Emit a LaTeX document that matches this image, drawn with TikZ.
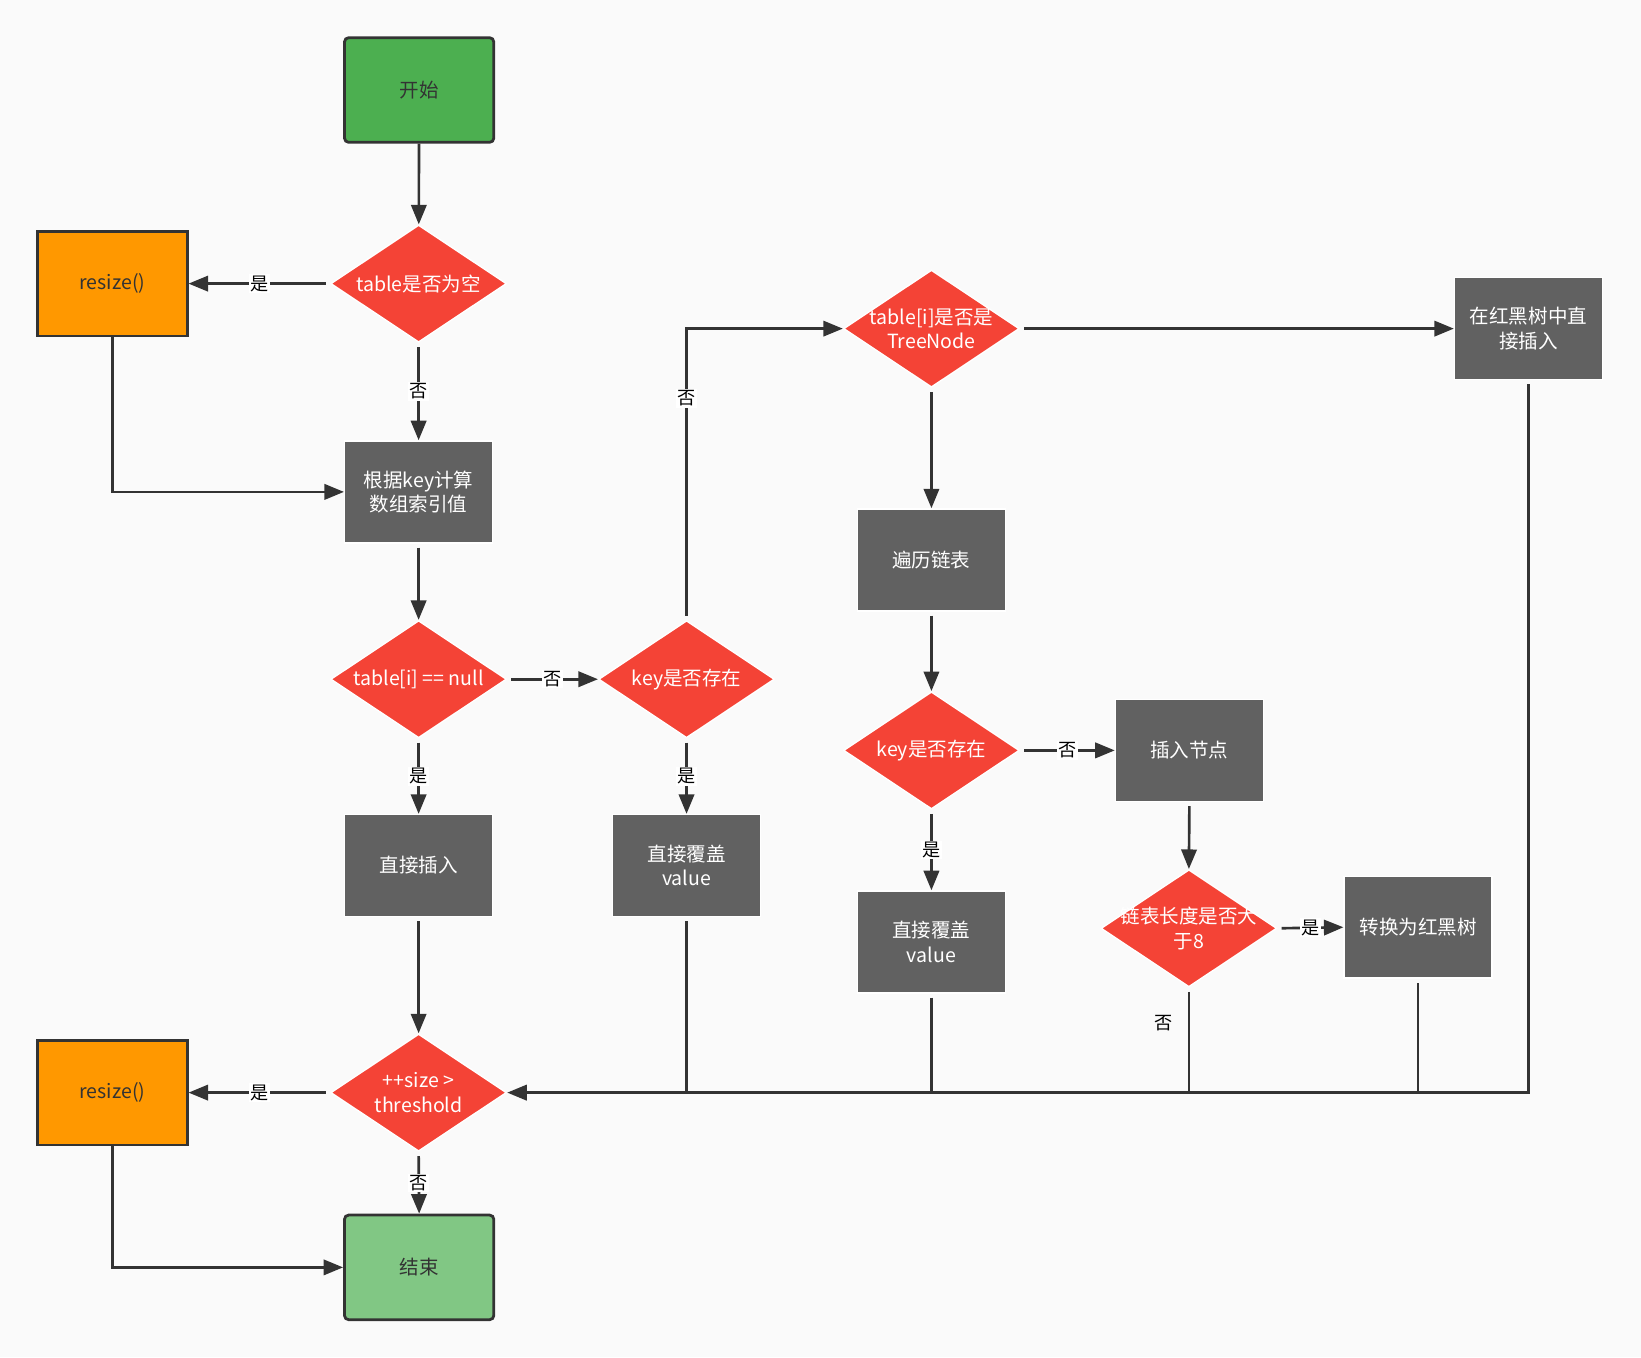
\documentclass[tikz,border=0pt]{standalone}
\usepackage{fontspec}
\setmainfont{Noto Sans CJK SC}
\usetikzlibrary{shapes.geometric,arrows.meta}
\definecolor{bgc}{RGB}{250,250,250}
\definecolor{edgec}{RGB}{51,51,51}
\definecolor{startc}{RGB}{76,175,80}
\definecolor{endc}{RGB}{129,199,132}
\definecolor{redc}{RGB}{244,67,54}
\definecolor{orangec}{RGB}{255,152,0}
\definecolor{grayc}{RGB}{97,97,97}
\begin{document}
\begin{tikzpicture}[x=0.75pt,y=-0.75pt,
  txt/.style={font=\fontsize{14}{17.5}\selectfont, align=center},
  term/.style={txt, draw=edgec, line width=2pt, rounded corners=3pt, minimum width=107pt, minimum height=75pt, inner sep=0pt, text=edgec},
  rsz/.style={txt, draw=edgec, line width=2pt, fill=orangec, minimum width=107pt, minimum height=75pt, inner sep=0pt, text=edgec},
  proc/.style={txt, draw=white, line width=1pt, fill=grayc, minimum width=106pt, minimum height=73pt, inner sep=0pt, text=white},
  dia/.style={shape=diamond, fill=redc, draw=white, line width=1pt, minimum width=126pt, minimum height=84pt, inner sep=0pt},
  dtxt/.style={txt, text=white, inner sep=0pt},
  conn/.style={draw=edgec, line width=1.9pt},
  arr/.style={conn, -{Triangle[length=14pt,width=11pt]}},
  gap/.style={shorten <=3pt},
  lbl/.style={fill=white, inner sep=1pt, font=\fontsize{13}{15}\selectfont, text=black},
  lbln/.style={inner sep=1pt, font=\fontsize{13}{15}\selectfont, text=black}
]
\fill[bgc] (0,0) rectangle (1568,1297);
\path[use as bounding box] (0,0) rectangle (1568,1297);

% nodes
\node[term, fill=startc] (start) at (400.5,86) {开始};
\node[dia] (d1) at (400,271) {};
\node[dtxt] (d1t) at (d1.center) {table是否为空};
\node[rsz] (r1) at (107.5,271) {resize()};
\node[proc] (calc) at (400,470) {根据key计算\\数组索引值};
\node[dia] (d2) at (400,649) {};
\node[dtxt] (d2t) at (d2.center) {table[i] == null};
\node[dia] (d3) at (656,649) {};
\node[dtxt] (d3t) at (d3.center) {key是否存在};
\node[proc] (ins) at (400,827) {直接插入};
\node[proc] (cov1) at (656,827) {直接覆盖\\value};
\node[dia] (d4) at (400,1044) {};
\node[dtxt] (d4t) at (d4.center) {++size >\\threshold};
\node[rsz] (r2) at (107.5,1044) {resize()};
\node[term, fill=endc] (stop) at (400.5,1211) {结束};
\node[dia] (tn) at (890,314) {};
\node[dtxt] (tnt) at (tn.center) {table[i]是否是\\TreeNode};
\node[proc] (rb) at (1460.5,314) {在红黑树中直\\接插入};
\node[proc] (trav) at (890,535) {遍历链表};
\node[dia] (d5) at (890,717) {};
\node[dtxt] (d5t) at (d5.center) {key是否存在};
\node[proc] (insn) at (1136.5,717) {插入节点};
\node[proc] (cov2) at (890,900) {直接覆盖\\value};
\node[dia] (d6) at (1136,887) {};
\node[dtxt] (d6t) at (d6.center) {链表长度是否大\\于8};
\node[proc] (conv) at (1355,886) {转换为红黑树};

% merge points on the return line
\coordinate (m1) at (cov1.south |- d4.east);
\coordinate (m2) at (cov2.south |- d4.east);
\coordinate (m3) at (d6.south |- d4.east);
\coordinate (m4) at (conv.south |- d4.east);

% connectors
\draw[arr] (start) -- (d1);
\draw[arr, gap] (d1.west) -- node[lbl] {是} (r1.east);
\draw[arr, gap] (d1.south) -- node[lbl] {否} (calc.north);
\draw[arr] (r1.south) |- (calc.west);
\draw[arr, gap] (calc.south) -- (d2.north);
\draw[arr, gap] (d2.east) -- node[lbl] {否} (d3.west);
\draw[arr, gap] (d2.south) -- node[lbl] {是} (ins.north);
\draw[arr, gap] (d3.south) -- node[lbl] {是} (cov1.north);
\draw[arr, gap] (d3.north) |- node[lbl, pos=0.38] {否} (tn.west);
\draw[arr, gap] (tn.east) -- (rb.west);
\draw[arr, gap] (tn.south) -- (trav.north);
\draw[arr, gap] (trav.south) -- (d5.north);
\draw[arr, gap] (d5.east) -- node[lbl] {否} (insn.west);
\draw[arr, gap] (d5.south) -- node[lbl] {是} (cov2.north);
\draw[arr, gap] (insn.south) -- (d6.north);
\draw[arr, gap] (d6.east) -- node[lbl] {是} (conv.west);
\draw[conn, gap] (d6.south) -- node[lbln, pos=0.34, left=10pt] {否} (m3);
\draw[arr, gap] (ins.south) -- (d4.north);
\draw[conn, gap] (cov1.south) -- (m1);
\draw[conn, gap] (cov2.south) -- (m2);
\draw[conn, gap] (conv.south) -- (m4);
\draw[arr, gap] (rb.south) |- (d4.east);
\draw[arr, gap] (d4.west) -- node[lbl] {是} (r2.east);
\draw[arr, gap] (d4.south) -- node[lbl] {否} (stop.north);
\draw[arr] (r2.south) |- (stop.west);
\end{tikzpicture}
\end{document}
